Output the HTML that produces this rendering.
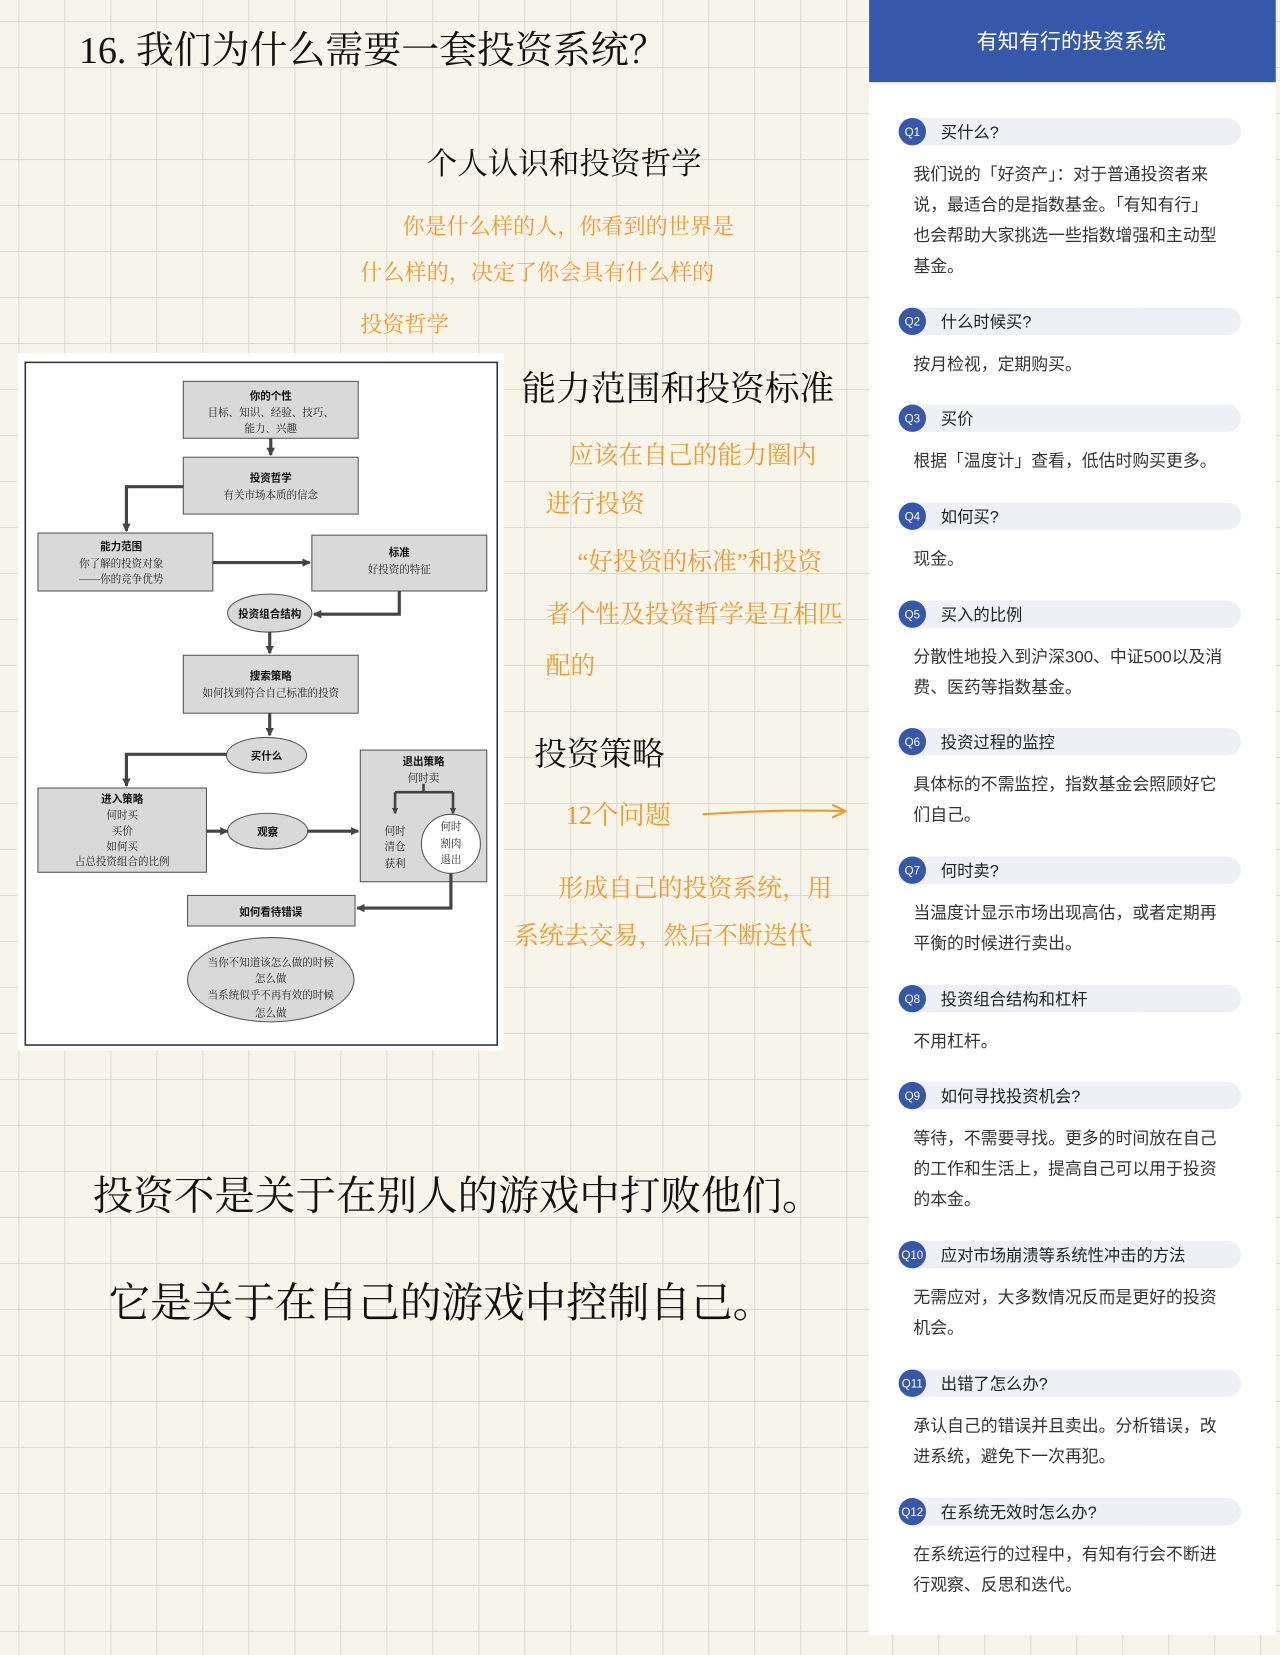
<!DOCTYPE html>
<html><head><meta charset="utf-8"><style>
html,body{margin:0;padding:0;background:#f7f4e9;}
svg{display:block;}
.hw{font-family:"Liberation Serif","Noto Serif CJK SC",serif;}
.k{fill:#111;}
.o{fill:#ef9a2c;}
.d{font-family:"Liberation Serif","Noto Serif CJK SC",serif;font-size:10px;fill:#222;text-anchor:middle;}
.db{font-family:"Liberation Sans","Noto Sans CJK SC",sans-serif;font-size:10px;font-weight:bold;fill:#111;text-anchor:middle;}
.r{font-family:"Liberation Sans","Noto Sans CJK SC",sans-serif;}
.qt{font-size:15.5px;fill:#222;}
.qb{font-size:16px;fill:#333;}
.ql{font-size:11px;fill:#fff;text-anchor:middle;}
</style></head><body>
<svg width="1280" height="1655" viewBox="0 0 1215 1571" xmlns="http://www.w3.org/2000/svg">
<defs>
<pattern id="g" x="17.4" y="20" width="43.66" height="43.66" patternUnits="userSpaceOnUse">
<path d="M0 0H43.66M0 0V43.66" stroke="#dedad0" stroke-width="2" fill="none"/>
</pattern>
<marker id="a" markerWidth="6" markerHeight="6" refX="5" refY="3" orient="auto" markerUnits="userSpaceOnUse"><path d="M0,0L6,3L0,6z" fill="#444"/></marker>
<marker id="a2" markerWidth="8" markerHeight="8" refX="7" refY="4" orient="auto" markerUnits="userSpaceOnUse"><path d="M0,0L8,4L0,8z" fill="#444"/></marker>
</defs>
<rect width="1215" height="1571" fill="#f7f4e9"/>
<rect width="1215" height="1571" fill="url(#g)"/>

<text class="hw k" x="75" y="60" font-size="36">16. 我们为什么需要一套投资系统？</text>
<text class="hw k" x="405" y="165" font-size="29">个人认识和投资哲学</text>
<text class="hw o" x="382" y="222" font-size="21">你是什么样的人，你看到的世界是</text>
<text class="hw o" x="342" y="266" font-size="21">什么样的，决定了你会具有什么样的</text>
<text class="hw o" x="342" y="315" font-size="21">投资哲学</text>
<text class="hw k" x="495" y="380" font-size="33">能力范围和投资标准</text>
<text class="hw o" x="540" y="440" font-size="23.5">应该在自己的能力圈内</text>
<text class="hw o" x="518" y="486" font-size="23.5">进行投资</text>
<text class="hw o" x="548" y="541" font-size="23.5">“好投资的标准”和投资</text>
<text class="hw o" x="518" y="591" font-size="23.5">者个性及投资哲学是互相匹</text>
<text class="hw o" x="518" y="640" font-size="23.5">配的</text>
<text class="hw k" x="507" y="726" font-size="31">投资策略</text>
<text class="hw o" x="537" y="782" font-size="25">12个问题</text>
<path d="M667 773 Q740 768 803 770 L790 764 M803 770 L790 776" stroke="#ef9a2c" stroke-width="2" fill="none"/>
<text class="hw o" x="530" y="851" font-size="23.6">形成自己的投资系统，用</text>
<text class="hw o" x="488" y="896" font-size="23.6">系统去交易，然后不断迭代</text>
<text class="hw k" x="88" y="1148" font-size="38.5">投资不是关于在别人的游戏中打败他们。</text>
<text class="hw k" x="103" y="1250" font-size="39.5">它是关于在自己的游戏中控制自己。</text>

<rect x="17" y="335" width="461" height="662" fill="#fff"/>
<rect x="24" y="344" width="448" height="648" fill="#fff" stroke="#333" stroke-width="1.5"/>
<g fill="#d9d9d9" stroke="#555" stroke-width="1">
<rect x="174" y="362" width="166" height="54"/>
<rect x="174" y="434" width="166" height="54"/>
<rect x="36" y="506" width="166" height="55"/>
<rect x="296" y="508" width="166" height="53"/>
<rect x="174" y="622" width="166" height="55"/>
<rect x="36" y="748" width="160" height="80"/>
<rect x="342" y="712" width="120" height="125"/>
<rect x="178" y="850" width="159" height="29"/>
<ellipse cx="256" cy="582" rx="40" ry="18"/>
<ellipse cx="253" cy="717" rx="38" ry="17"/>
<ellipse cx="254" cy="789" rx="38" ry="17"/>
<ellipse cx="257" cy="930" rx="79" ry="40"/>
</g>
<circle cx="428" cy="801" r="28" fill="#fff" stroke="#555"/>
<g stroke="#444" stroke-width="3" fill="none" marker-end="url(#a2)">
<path d="M257 416V432"/>
<path d="M174 462H120V504"/>
<path d="M202 534H294"/>
<path d="M379 561V583H298"/>
<path d="M256 600V620"/>
<path d="M256 677V698"/>
<path d="M215 716H120V746"/>
<path d="M196 789H216"/>
<path d="M292 789H340"/>
<path d="M428 829V862H339"/>
</g>
<g stroke="#444" stroke-width="2.5" fill="none">
<path d="M402 744V752M375 752H430"/>
<path d="M375 752V772" marker-end="url(#a)"/>
<path d="M430 752V772" marker-end="url(#a)"/>
</g>
<text class="db" x="257" y="379">你的个性</text>
<text class="d" x="257" y="395">目标、知识、经验、技巧、</text>
<text class="d" x="257" y="410">能力、兴趣</text>
<text class="db" x="257" y="457">投资哲学</text>
<text class="d" x="257" y="473">有关市场本质的信念</text>
<text class="db" x="115" y="522">能力范围</text>
<text class="d" x="115" y="538">你了解的投资对象</text>
<text class="d" x="115" y="553">——你的竞争优势</text>
<text class="db" x="379" y="528">标准</text>
<text class="d" x="379" y="544">好投资的特征</text>
<text class="db" x="256" y="586">投资组合结构</text>
<text class="db" x="257" y="645">搜索策略</text>
<text class="d" x="257" y="661">如何找到符合自己标准的投资</text>
<text class="db" x="253" y="721">买什么</text>
<text class="db" x="116" y="762">进入策略</text>
<text class="d" x="116" y="777">何时买</text>
<text class="d" x="116" y="792">买价</text>
<text class="d" x="116" y="807">如何买</text>
<text class="d" x="116" y="821">占总投资组合的比例</text>
<text class="db" x="254" y="793">观察</text>
<text class="db" x="402" y="726">退出策略</text>
<text class="d" x="402" y="742">何时卖</text>
<text class="d" x="375" y="792">何时</text>
<text class="d" x="375" y="807">清仓</text>
<text class="d" x="375" y="823">获利</text>
<text class="d" x="428" y="788">何时</text>
<text class="d" x="428" y="804">割肉</text>
<text class="d" x="428" y="819">退出</text>
<text class="db" x="257" y="869">如何看待错误</text>
<text class="d" x="257" y="917">当你不知道该怎么做的时候</text>
<text class="d" x="257" y="932">怎么做</text>
<text class="d" x="257" y="948">当系统似乎不再有效的时候</text>
<text class="d" x="257" y="965">怎么做</text>

<rect x="825" y="0" width="386" height="1552" fill="#fff"/>
<rect x="825" y="0" width="386" height="78" fill="#3558ab"/>
<text class="r" x="1017" y="46" font-size="20" fill="#fff" text-anchor="middle">有知有行的投资系统</text>
<g class="r">
<g transform="translate(0,125)"><rect x="853" y="-13" width="325" height="26" rx="13" fill="#eef0f6"/><circle cx="866" cy="0" r="13" fill="#3558ab"/><text class="ql" x="866" y="4">Q1</text><text class="qt" x="893" y="6">买什么?</text></g>
<text class="qb" x="867" y="171">我们说的「好资产」：对于普通投资者来</text>
<text class="qb" x="867" y="200">说，最适合的是指数基金。「有知有行」</text>
<text class="qb" x="867" y="229">也会帮助大家挑选一些指数增强和主动型</text>
<text class="qb" x="867" y="258">基金。</text>

<g transform="translate(0,305)"><rect x="853" y="-13" width="325" height="26" rx="13" fill="#eef0f6"/><circle cx="866" cy="0" r="13" fill="#3558ab"/><text class="ql" x="866" y="4">Q2</text><text class="qt" x="893" y="6">什么时候买?</text></g>
<text class="qb" x="867" y="351">按月检视，定期购买。</text>

<g transform="translate(0,397)"><rect x="853" y="-13" width="325" height="26" rx="13" fill="#eef0f6"/><circle cx="866" cy="0" r="13" fill="#3558ab"/><text class="ql" x="866" y="4">Q3</text><text class="qt" x="893" y="6">买价</text></g>
<text class="qb" x="867" y="443">根据「温度计」查看，低估时购买更多。</text>

<g transform="translate(0,490)"><rect x="853" y="-13" width="325" height="26" rx="13" fill="#eef0f6"/><circle cx="866" cy="0" r="13" fill="#3558ab"/><text class="ql" x="866" y="4">Q4</text><text class="qt" x="893" y="6">如何买?</text></g>
<text class="qb" x="867" y="536">现金。</text>

<g transform="translate(0,583)"><rect x="853" y="-13" width="325" height="26" rx="13" fill="#eef0f6"/><circle cx="866" cy="0" r="13" fill="#3558ab"/><text class="ql" x="866" y="4">Q5</text><text class="qt" x="893" y="6">买入的比例</text></g>
<text class="qb" x="867" y="629">分散性地投入到沪深300、中证500以及消</text>
<text class="qb" x="867" y="658">费、医药等指数基金。</text>

<g transform="translate(0,704)"><rect x="853" y="-13" width="325" height="26" rx="13" fill="#eef0f6"/><circle cx="866" cy="0" r="13" fill="#3558ab"/><text class="ql" x="866" y="4">Q6</text><text class="qt" x="893" y="6">投资过程的监控</text></g>
<text class="qb" x="867" y="750">具体标的不需监控，指数基金会照顾好它</text>
<text class="qb" x="867" y="779">们自己。</text>

<g transform="translate(0,826)"><rect x="853" y="-13" width="325" height="26" rx="13" fill="#eef0f6"/><circle cx="866" cy="0" r="13" fill="#3558ab"/><text class="ql" x="866" y="4">Q7</text><text class="qt" x="893" y="6">何时卖?</text></g>
<text class="qb" x="867" y="872">当温度计显示市场出现高估，或者定期再</text>
<text class="qb" x="867" y="901">平衡的时候进行卖出。</text>

<g transform="translate(0,948)"><rect x="853" y="-13" width="325" height="26" rx="13" fill="#eef0f6"/><circle cx="866" cy="0" r="13" fill="#3558ab"/><text class="ql" x="866" y="4">Q8</text><text class="qt" x="893" y="6">投资组合结构和杠杆</text></g>
<text class="qb" x="867" y="994">不用杠杆。</text>

<g transform="translate(0,1040)"><rect x="853" y="-13" width="325" height="26" rx="13" fill="#eef0f6"/><circle cx="866" cy="0" r="13" fill="#3558ab"/><text class="ql" x="866" y="4">Q9</text><text class="qt" x="893" y="6">如何寻找投资机会?</text></g>
<text class="qb" x="867" y="1086">等待，不需要寻找。更多的时间放在自己</text>
<text class="qb" x="867" y="1115">的工作和生活上，提高自己可以用于投资</text>
<text class="qb" x="867" y="1144">的本金。</text>

<g transform="translate(0,1191)"><rect x="853" y="-13" width="325" height="26" rx="13" fill="#eef0f6"/><circle cx="866" cy="0" r="13" fill="#3558ab"/><text class="ql" x="866" y="4" font-size="10">Q10</text><text class="qt" x="893" y="6">应对市场崩溃等系统性冲击的方法</text></g>
<text class="qb" x="867" y="1237">无需应对，大多数情况反而是更好的投资</text>
<text class="qb" x="867" y="1266">机会。</text>

<g transform="translate(0,1313)"><rect x="853" y="-13" width="325" height="26" rx="13" fill="#eef0f6"/><circle cx="866" cy="0" r="13" fill="#3558ab"/><text class="ql" x="866" y="4" font-size="10">Q11</text><text class="qt" x="893" y="6">出错了怎么办?</text></g>
<text class="qb" x="867" y="1359">承认自己的错误并且卖出。分析错误，改</text>
<text class="qb" x="867" y="1388">进系统，避免下一次再犯。</text>

<g transform="translate(0,1435)"><rect x="853" y="-13" width="325" height="26" rx="13" fill="#eef0f6"/><circle cx="866" cy="0" r="13" fill="#3558ab"/><text class="ql" x="866" y="4" font-size="10">Q12</text><text class="qt" x="893" y="6">在系统无效时怎么办?</text></g>
<text class="qb" x="867" y="1481">在系统运行的过程中，有知有行会不断进</text>
<text class="qb" x="867" y="1510">行观察、反思和迭代。</text>
</g>
</svg>
</body></html>
